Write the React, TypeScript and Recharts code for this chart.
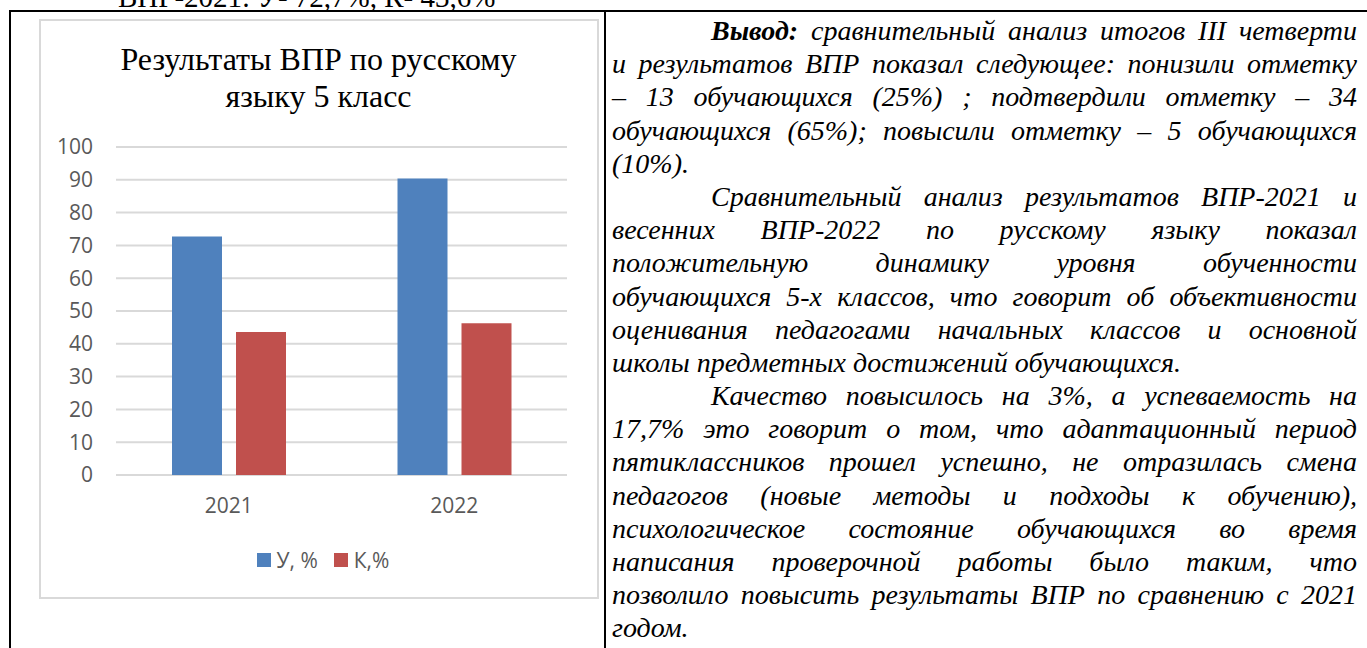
import React from "react";
import { BarChart, Bar, XAxis, YAxis, CartesianGrid, Legend } from "recharts";

const categories = ["2021", "2022"];
const uValues = [72.7, 90.4];
const kValues = [43.6, 46.3];
const seriesNames = ["У, %", "К,%"];
const yTicks = [0, 10, 20, 30, 40, 50, 60, 70, 80, 90, 100];

const BLUE = "#4f81bd";
const RED = "#c0504d";
const AXIS_TEXT = "#595959";
const GRID = "#d9d9d9";
const SERIF = "'Times New Roman', 'Liberation Serif', Tinos, serif";

const data = categories.map((year, i) => ({
  year,
  u: uValues[i],
  k: kValues[i],
}));

// document text, one entry per printed line
const lines: { text: React.ReactNode; indent?: boolean; last?: boolean }[] = [
  { text: <><b>Вывод:</b> сравнительный анализ итогов III четверти</>, indent: true },
  { text: "и результатов ВПР показал следующее: понизили отметку" },
  { text: "– 13 обучающихся (25%) ; подтвердили отметку – 34" },
  { text: "обучающихся (65%); повысили отметку – 5 обучающихся" },
  { text: "(10%).", last: true },
  { text: "Сравнительный анализ результатов ВПР-2021 и", indent: true },
  { text: "весенних ВПР-2022 по русскому языку показал" },
  { text: "положительную динамику уровня обученности" },
  { text: "обучающихся 5-х классов, что говорит об объективности" },
  { text: "оценивания педагогами начальных классов и основной" },
  { text: "школы предметных достижений обучающихся.", last: true },
  { text: "Качество повысилось на 3%, а успеваемость на", indent: true },
  { text: "17,7% это говорит о том, что адаптационный период" },
  { text: "пятиклассников прошел успешно, не отразилась смена" },
  { text: "педагогов (новые методы и подходы к обучению)," },
  { text: "психологическое состояние обучающихся во время" },
  { text: "написания проверочной работы было таким, что" },
  { text: "позволило повысить результаты ВПР по сравнению с 2021" },
  { text: "годом.", last: true },
];

function LegendContent(props: any) {
  const items = [...(props.payload || [])].sort(
    (a: any, b: any) => seriesNames.indexOf(a.value) - seriesNames.indexOf(b.value)
  );
  return (
    <div
      style={{
        display: "flex",
        justifyContent: "center",
        alignItems: "center",
        height: 30,
        fontFamily: "Open Sans",
        fontSize: 21,
        color: AXIS_TEXT,
      }}
    >
      {items.map((it: any, i: number) => (
        <div
          key={i}
          style={{ display: "flex", alignItems: "center", marginLeft: i ? 16 : 0 }}
        >
          <span
            style={{ width: 14, height: 14, background: it.color, marginRight: 6 }}
          />
          <span>{it.value}</span>
        </div>
      ))}
    </div>
  );
}

export default function App() {
  const tick = { fontFamily: "Open Sans", fontSize: 21, fill: AXIS_TEXT };
  return (
    <div
      style={{
        position: "fixed",
        left: 0,
        top: 0,
        width: 1367,
        height: 648,
        overflow: "hidden",
        background: "#fff",
        fontFamily: SERIF,
      }}
    >
      {/* cut-off line above the table */}
      <div
        style={{
          position: "absolute",
          left: 118,
          top: -17,
          fontSize: 29,
          lineHeight: "28px",
          whiteSpace: "nowrap",
        }}
      >
        ВПР-2021: У- 72,7%, К- 43,6%
      </div>

      {/* table borders */}
      <div style={{ position: "absolute", left: 9, top: 10, width: 1358, height: 2, background: "#000" }} />
      <div style={{ position: "absolute", left: 9, top: 10, width: 2, height: 638, background: "#000" }} />
      <div style={{ position: "absolute", left: 604, top: 10, width: 2, height: 638, background: "#000" }} />

      {/* chart frame */}
      <div
        style={{
          position: "absolute",
          left: 39,
          top: 19,
          width: 560,
          height: 580,
          border: "2px solid #d9d9d9",
          boxSizing: "border-box",
        }}
      />
      <div
        style={{
          position: "absolute",
          left: 40,
          top: 41,
          width: 557,
          textAlign: "center",
          fontSize: 32,
          lineHeight: "37px",
          color: "#000",
        }}
      >
        Результаты ВПР по русскому
        <br />
        языку 5 класс
      </div>
      <div style={{ position: "absolute", left: 40, top: 20 }}>
        <BarChart
          width={557}
          height={577}
          data={data}
          margin={{ top: 127, right: 30, left: 0, bottom: 32 }}
          barSize={50}
          barGap={14}
        >
          <CartesianGrid vertical={false} stroke={GRID} strokeWidth={2} />
          <XAxis
            dataKey="year"
            height={60}
            axisLine={false}
            tickLine={false}
            tickSize={0}
            tickMargin={23}
            tick={tick}
          />
          <YAxis
            width={76}
            domain={[0, 100]}
            ticks={yTicks}
            interval={0}
            axisLine={false}
            tickLine={false}
            tickSize={0}
            tickMargin={23}
            tick={tick}
          />
          <Legend
            verticalAlign="bottom"
            height={30}
            content={LegendContent}
            wrapperStyle={{ top: 525, left: 9, width: 548, height: 30 }}
          />
          <Bar dataKey="u" name={seriesNames[0]} fill={BLUE} isAnimationActive={false} />
          <Bar dataKey="k" name={seriesNames[1]} fill={RED} isAnimationActive={false} />
        </BarChart>
      </div>

      {/* right cell text */}
      <div
        style={{
          position: "absolute",
          left: 612,
          top: 14,
          width: 745,
          fontSize: 28,
          lineHeight: "33.2px",
          fontStyle: "italic",
          color: "#000",
        }}
      >
        {lines.map((ln, i) => (
          <div
            key={i}
            style={{
              whiteSpace: "nowrap",
              textAlign: ln.last ? "left" : "justify",
              textAlignLast: ln.last ? "left" : "justify",
              paddingLeft: ln.indent ? 99 : 0,
              height: 33.2,
            }}
          >
            {ln.text}
          </div>
        ))}
      </div>
    </div>
  );
}
